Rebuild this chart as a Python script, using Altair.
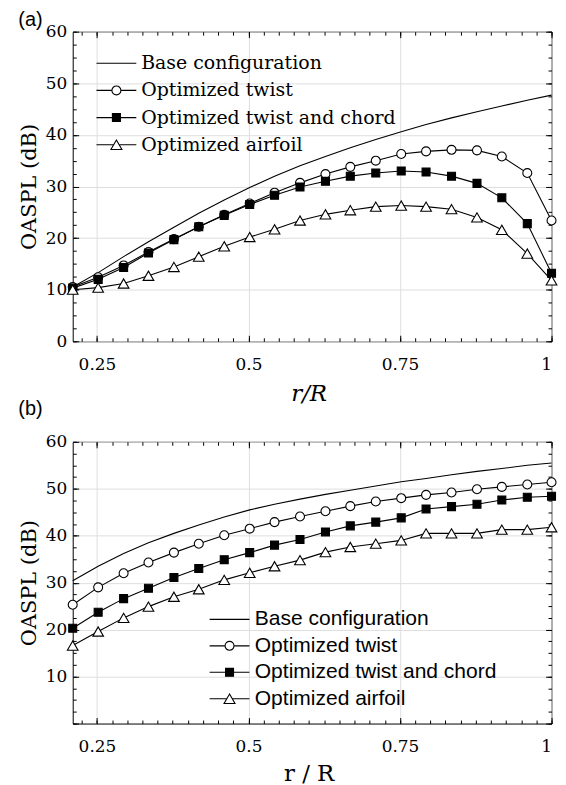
import altair as alt
import pandas as pd

# ---------------- data ----------------
r_vals = [0.210, 0.252, 0.294, 0.335, 0.377, 0.418, 0.460, 0.502, 0.543, 0.585,
          0.627, 0.668, 0.710, 0.752, 0.793, 0.835, 0.877, 0.918, 0.960, 1.000]

series = ["Base configuration", "Optimized twist",
          "Optimized twist and chord", "Optimized airfoil"]

# panel (a)
a_base = [10.5, 13.3, 16.4, 19.3, 22.1, 24.8, 27.4, 29.8, 32.0, 34.0,
          35.8, 37.5, 39.1, 40.6, 42.0, 43.3, 44.5, 45.6, 46.7, 47.7]
a_twist = [10.5, 12.4, 14.7, 17.3, 19.8, 22.2, 24.5, 26.7, 28.8, 30.7,
           32.4, 33.8, 35.0, 36.3, 36.8, 37.1, 37.0, 35.8, 32.6, 23.4]
a_chord = [10.3, 12.0, 14.3, 17.1, 19.7, 22.2, 24.4, 26.5, 28.3, 29.9,
           31.0, 32.0, 32.6, 33.0, 32.8, 32.0, 30.6, 27.8, 22.8, 13.2]
a_airfoil = [10.0, 10.4, 11.2, 12.7, 14.4, 16.4, 18.4, 20.2, 21.7, 23.4,
             24.6, 25.4, 26.1, 26.3, 26.1, 25.6, 24.0, 21.6, 17.0, 11.8]

# panel (b)
b_base = [30.4, 33.5, 36.2, 38.5, 40.5, 42.3, 44.0, 45.5, 46.7, 47.8,
          48.8, 49.7, 50.6, 51.5, 52.2, 53.0, 53.7, 54.3, 55.0, 55.5]
b_twist = [25.3, 29.0, 32.0, 34.3, 36.4, 38.3, 40.1, 41.5, 42.9, 44.1,
           45.2, 46.3, 47.3, 48.0, 48.7, 49.2, 49.9, 50.4, 50.9, 51.4]
b_chord = [20.3, 23.7, 26.6, 28.8, 31.1, 33.0, 34.9, 36.4, 38.0, 39.2,
           40.8, 42.1, 42.9, 43.8, 45.7, 46.2, 46.7, 47.6, 48.2, 48.4]
b_airfoil = [16.6, 19.6, 22.5, 24.9, 27.0, 28.6, 30.6, 32.1, 33.5, 34.8,
             36.5, 37.6, 38.3, 39.0, 40.5, 40.5, 40.5, 41.3, 41.3, 41.8]

x_major = [0.25, 0.5, 0.75, 1.0]
x_minor = [round(0.225 + 0.025 * i, 3) for i in range(32)]
y_major = [0, 10, 20, 30, 40, 50, 60]
y_minor = [2.5 * i for i in range(25)]

# legend glyphs: line + marker (custom paths)
legend_shapes = [
    "M-4,0L4,0",
    "M-4,0L-0.9,0M0.9,0L4,0M0.9,0A0.9,0.9,0,1,1,-0.9,0A0.9,0.9,0,1,1,0.9,0Z",
    "M-4,0L-0.8,0M0.8,0L4,0M-0.8,-0.8L0.8,-0.8L0.8,0.8L-0.8,0.8Z",
    "M-4,0L-0.55,0M0.55,0L4,0M0,-0.95L1.1,0.95L-1.1,0.95Z",
]
legend_fills = ["transparent", "white", "black", "white"]
legend_strokes = ["black", "black", "black", "black"]

SERIF = "DejaVu Serif"
SANS = "Liberation Sans"
GRID = "#dedede"
PW, PH_A, PH_B = 481, 311, 283


def make_df(vals_list):
    rows = []
    for name, vals in zip(series, vals_list):
        for r, v in zip(r_vals, vals):
            rows.append({"r": r, "v": v, "s": name})
    return pd.DataFrame(rows)


def xs():
    return alt.Scale(domain=[0.21, 1.0], nice=False, zero=False)


def ys():
    return alt.Scale(domain=[0, 60], nice=False, zero=False)


def tick_axis(orient, values, size, offset):
    # axis placed on the opposite edge so that its ticks point into the plot
    return alt.Axis(orient=orient, values=values, ticks=True, tickSize=size,
                    offset=offset, tickColor="black", tickWidth=1,
                    labels=False, domain=False, grid=False, title=None,
                    minExtent=0, maxExtent=0)


def panel(vals_list, ph, xtitle, xitalic, ylabel_vals, xtitle_y,
          leg_font, leg_size, leg_x, leg_y, leg_label_offset, leg_row_pad):
    df = make_df(vals_list)
    lab_x = alt.Axis(orient="bottom", values=x_major, format=".2~f", grid=True,
                     gridColor=GRID, gridWidth=1, ticks=False, domain=False,
                     labelPadding=15, title=xtitle, titleX=237, titleY=xtitle_y,
                     titleFontSize=23, titleBaseline="alphabetic",
                     titleFontStyle=xitalic, minExtent=0)
    lab_y = alt.Axis(orient="left", values=ylabel_vals, grid=True,
                     gridColor=GRID, gridWidth=1, ticks=False, domain=False,
                     labelPadding=6, title="OASPL (dB)", titlePadding=6,
                     minExtent=0)
    axes = [
        (lab_x, lab_y),
        (tick_axis("top", x_major, 6, -ph), tick_axis("right", y_major, 6, -PW)),
        (tick_axis("top", x_minor, 3.5, -ph), tick_axis("right", y_minor, 3.5, -PW)),
        (tick_axis("bottom", x_major, 6, -ph), tick_axis("left", y_major, 6, -PW)),
        (tick_axis("bottom", x_minor, 3.5, -ph), tick_axis("left", y_minor, 3.5, -PW)),
    ]
    layers = []
    for i, name in enumerate(series):
        ax, ay = axes[i]
        layers.append(
            alt.Chart().mark_line(color="black", strokeWidth=1.1)
            .encode(x=alt.X("r:Q", scale=xs(), axis=ax),
                    y=alt.Y("v:Q", scale=ys(), axis=ay))
            .transform_filter(alt.datum.s == name)
        )
    marker_specs = [("Optimized twist", "circle", "white", 81),
                    ("Optimized twist and chord", "square", "black", 64),
                    ("Optimized airfoil", "triangle-up", "white", 115)]
    for j, (name, shp, fillc, sz) in enumerate(marker_specs):
        if j == 0:
            ax, ay = axes[4]
        else:
            ax, ay = None, None
        layers.append(
            alt.Chart().mark_point(shape=shp, filled=True, fill=fillc,
                                   stroke="black", strokeWidth=1.1, size=sz,
                                   opacity=1)
            .encode(x=alt.X("r:Q", scale=xs(), axis=ax),
                    y=alt.Y("v:Q", scale=ys(), axis=ay))
            .transform_filter(alt.datum.s == name)
        )
    leg = alt.Legend(orient="none", legendX=leg_x, legendY=leg_y, title=None,
                     labelFont=leg_font, labelFontSize=leg_size, labelLimit=0,
                     labelColor="black", labelOffset=leg_label_offset,
                     labelBaseline="middle", rowPadding=leg_row_pad,
                     padding=0, offset=0, symbolSize=100, symbolStrokeColor="black",
                     symbolStrokeWidth=1.1, symbolOpacity=1)
    legend_layer = (
        alt.Chart().mark_point(filled=True, size=100, strokeWidth=1.1, opacity=1)
        .encode(x=alt.X("r:Q", scale=xs(), axis=None),
                y=alt.Y("v:Q", scale=ys(), axis=None),
                shape=alt.Shape("s:N", scale=alt.Scale(domain=series, range=legend_shapes), legend=leg),
                fill=alt.Fill("s:N", scale=alt.Scale(domain=series, range=legend_fills), legend=leg),
                stroke=alt.Stroke("s:N", scale=alt.Scale(domain=series, range=legend_strokes), legend=leg))
        .transform_filter("false")
    )
    layers.append(legend_layer)
    return alt.layer(*layers, data=df).resolve_axis(x="independent", y="independent")


top = panel([a_base, a_twist, a_chord, a_airfoil], PH_A, "r/R", "italic",
            y_major, 60, SERIF, 19, 34.4, 22.2, 15.4, 7.3).properties(
    width=PW, height=PH_A,
    title=alt.TitleParams("(a)", anchor="start", frame="bounds", font=SANS,
                          fontSize=20, fontWeight="normal", color="black", offset=-7.5))

bottom = panel([b_base, b_twist, b_chord, b_airfoil], PH_B, "r / R", "normal",
               [10, 20, 30, 40, 50, 60], 57, SANS, 21.1, 147, 167.8, 14.8, 4.6).properties(
    width=PW, height=PH_B,
    title=alt.TitleParams("(b)", anchor="start", frame="bounds", font=SANS,
                          fontSize=20, fontWeight="normal", color="black", offset=14.2))

chart = (
    alt.vconcat(top, bottom, spacing=-9)
    .resolve_scale(x="independent", y="independent", shape="independent",
                   fill="independent", stroke="independent")
    .resolve_legend(shape="independent", fill="independent", stroke="independent")
    .properties(padding={"left": 9, "top": 0, "right": -2.5, "bottom": 6}, background="white")
    .configure_view(stroke="black", strokeWidth=1, fill="white")
    .configure_axis(labelFont=SERIF, labelFontSize=17, labelColor="black",
                    titleFont=SERIF, titleFontSize=21, titleColor="black",
                    titleFontWeight="normal")
)

chart.save("out.html", embed_options={"renderer": "svg", "actions": False})
